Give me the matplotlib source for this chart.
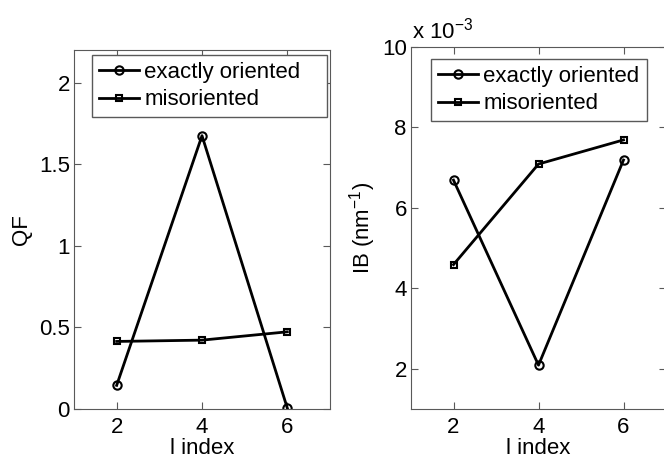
import matplotlib
matplotlib.use("Agg")
import matplotlib.pyplot as plt
from matplotlib.ticker import FuncFormatter

# data
l_index = [2, 4, 6]
qf_exact = [0.145, 1.675, 0.005]
qf_mis = [0.414, 0.422, 0.473]
ib_exact = [6.69e-3, 2.09e-3, 7.19e-3]
ib_mis = [4.59e-3, 7.09e-3, 7.69e-3]

plt.rcParams['font.family'] = ['Liberation Sans', 'DejaVu Sans']
plt.rcParams['mathtext.default'] = 'regular'
FS = 16
W, H = 664.0, 459.0


def style_axes(ax):
    # matlab look: box, inward ticks on every side
    for sp in ax.spines.values():
        sp.set_color('0.35')
        sp.set_linewidth(0.8)
    ax.tick_params(direction='in', length=5, width=0.8, color='0.35',
                   top=True, right=True, labelsize=FS)
    ax.tick_params(axis='x', pad=6)
    ax.tick_params(axis='y', pad=3)


def add_legend(ax, x0, y0, x1, y1, axbox):
    # legend box given in figure pixels, converted to axes coords
    ax_l, ax_b, ax_w, ax_h = axbox
    bx = (x0 - ax_l) / ax_w
    bw = (x1 - x0) / ax_w
    by = (H - y1 - ax_b) / ax_h
    bh = (y1 - y0) / ax_h
    ax.legend(loc='upper left', bbox_to_anchor=(bx, by, bw, bh),
              mode='expand', fontsize=FS, fancybox=False, edgecolor='0.35',
              handlelength=1.8, handletextpad=0.25, borderpad=0.3,
              labelspacing=0.3, borderaxespad=0.0, framealpha=1)


def main():
    fig = plt.figure(figsize=(6.64, 4.59), dpi=100)
    box1 = (74, 50, 256, 359)
    box2 = (411, 50, 255, 362)
    ax1 = fig.add_axes([box1[0] / W, box1[1] / H, box1[2] / W, box1[3] / H])
    ax2 = fig.add_axes([box2[0] / W, box2[1] / H, box2[2] / W, box2[3] / H])

    # left: QF
    ax1.plot(l_index, qf_exact, 'k-o', lw=2, ms=6, mfc='none', mew=1.5,
             label='exactly oriented')
    ax1.plot(l_index, qf_mis, 'k-s', lw=2, ms=5, mfc='none', mew=1.5,
             label='misoriented')
    ax1.set_xlim(1, 7)
    ax1.set_ylim(0, 2.2)
    ax1.set_xticks([2, 4, 6])
    ax1.set_yticks([0, 0.5, 1, 1.5, 2])
    ax1.set_yticklabels(['0', '0.5', '1', '1.5', '2'])
    ax1.set_xlabel('l index', fontsize=FS, labelpad=0)
    ax1.set_ylabel('QF', fontsize=FS, labelpad=5)
    style_axes(ax1)
    add_legend(ax1, 92, 55, 327, 117, box1)

    # right: IB
    ax2.plot(l_index, ib_exact, 'k-o', lw=2, ms=6, mfc='none', mew=1.5,
             label='exactly oriented')
    ax2.plot(l_index, ib_mis, 'k-s', lw=2, ms=5, mfc='none', mew=1.5,
             label='misoriented')
    ax2.set_xlim(1, 7)
    ax2.set_ylim(1e-3, 10e-3)
    ax2.set_xticks([2, 4, 6])
    ax2.set_yticks([2e-3, 4e-3, 6e-3, 8e-3, 10e-3])
    ax2.yaxis.set_major_formatter(FuncFormatter(lambda v, p: '%g' % round(v * 1e3, 6)))
    ax2.set_xlabel('l index', fontsize=FS, labelpad=0)
    ax2.set_ylabel('IB (nm$^{-1}$)', fontsize=FS, labelpad=3)
    style_axes(ax2)
    ax2.text(0.005, 1.01, 'x 10$^{-3}$', transform=ax2.transAxes,
             fontsize=FS, ha='left', va='bottom')
    add_legend(ax2, 431, 59, 647, 120, box2)

    fig.savefig('out.png', dpi=100)
    plt.close(fig)


if __name__ == '__main__':
    main()
